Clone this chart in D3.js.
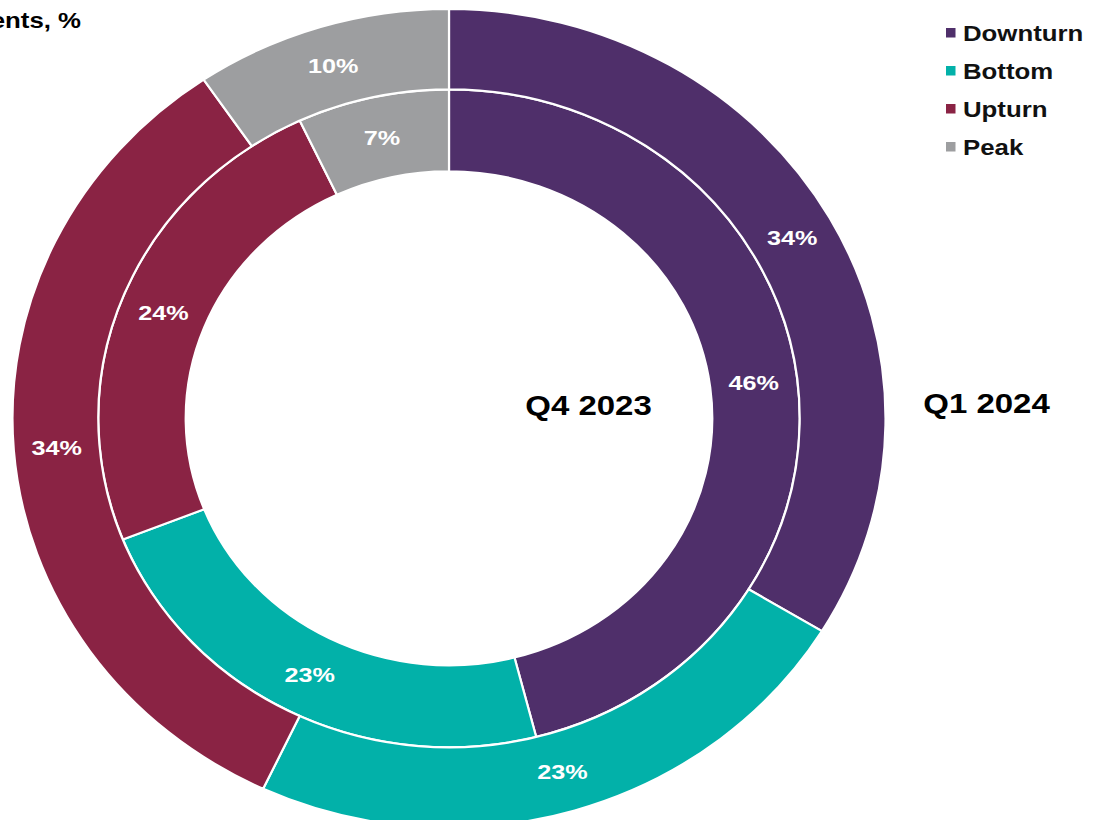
<!DOCTYPE html>
<html>
<head>
<meta charset="utf-8">
<script src="https://cdn.jsdelivr.net/npm/d3@7"></script>
<style>
  html, body { margin: 0; padding: 0; background: #fff; }
  svg { display: block; }
  text { font-family: "Liberation Sans", Arial, sans-serif; font-weight: bold; }
</style>
</head>
<body>
<svg id="chart" width="1103" height="820"></svg>
<script>
const categories = ["Downturn", "Bottom", "Upturn", "Peak"];
const colors = ["#4f2f6a", "#02b1a9", "#8a2344", "#9d9ea0"];
const innerSeriesName = "Q4 2023";
const outerSeriesName = "Q1 2024";
// shares; labels show them rounded
const innerValues = [46, 23, 24, 7];          // Q4 2023
const outerValues = [33.7, 23.3, 33.5, 9.5];  // Q1 2024
const titleText = "Share of respondents, %";

const svg = d3.select("#chart");
const cx = 449, cy = 418.3, sx = 1.066, tsx = 1.2;
const rHole = 247, rMid = 329, rOuter = 409.5;

const color = d3.scaleOrdinal().domain(categories).range(colors);
const pie = d3.pie().sort(null).value(d => d.v);

const innerArc = d3.arc().innerRadius(rHole).outerRadius(rMid);
const outerArc = d3.arc().innerRadius(rMid).outerRadius(rOuter);

const ringG = svg.append("g").attr("transform", `translate(${cx},${cy}) scale(${sx},1)`);
const labelG = svg.append("g").attr("transform", `translate(${cx},${cy})`);

function drawRing(values, arc) {
  const data = pie(categories.map((c, i) => ({ c, v: values[i] })));
  ringG.append("g").selectAll("path").data(data).join("path")
    .attr("d", arc)
    .attr("fill", d => color(d.data.c))
    .attr("stroke", "#fff")
    .attr("stroke-width", 2.2)
    .attr("vector-effect", "non-scaling-stroke");
  labelG.append("g").selectAll("text").data(data).join("text")
    .attr("transform", d => {
      const [x, y] = arc.centroid(d);
      return `translate(${x * sx},${y}) scale(${tsx},1)`;
    })
    .attr("dy", "0.36em")
    .attr("text-anchor", "middle")
    .attr("fill", "#fff")
    .attr("font-size", 21)
    .text(d => Math.round(d.data.v) + "%");
}
drawRing(innerValues, innerArc);
drawRing(outerValues, outerArc);

function label(x, y, txt, size, anchor) {
  svg.append("text").attr("transform", `translate(${x},${y}) scale(${tsx},1)`)
    .attr("text-anchor", anchor).attr("font-size", size).attr("fill", "#000").text(txt);
}
// series labels
label(588.5, 415, innerSeriesName, 27.5, "middle");
label(986.5, 413, outerSeriesName, 27.5, "middle");
// title (cut off at left edge as in the reference)
label(81, 28, titleText, 21.5, "end");

// legend
const legend = svg.append("g").attr("transform", "translate(946,28)");
const li = legend.selectAll("g").data(categories).join("g")
  .attr("transform", (d, i) => `translate(0,${i * 38})`);
li.append("rect").attr("width", 9.5).attr("height", 9.5).attr("fill", d => color(d));
li.append("text").attr("transform", `translate(17,13) scale(${tsx},1)`).attr("font-size", 21.5)
  .attr("fill", "#111").text(d => d);
</script>
</body>
</html>
